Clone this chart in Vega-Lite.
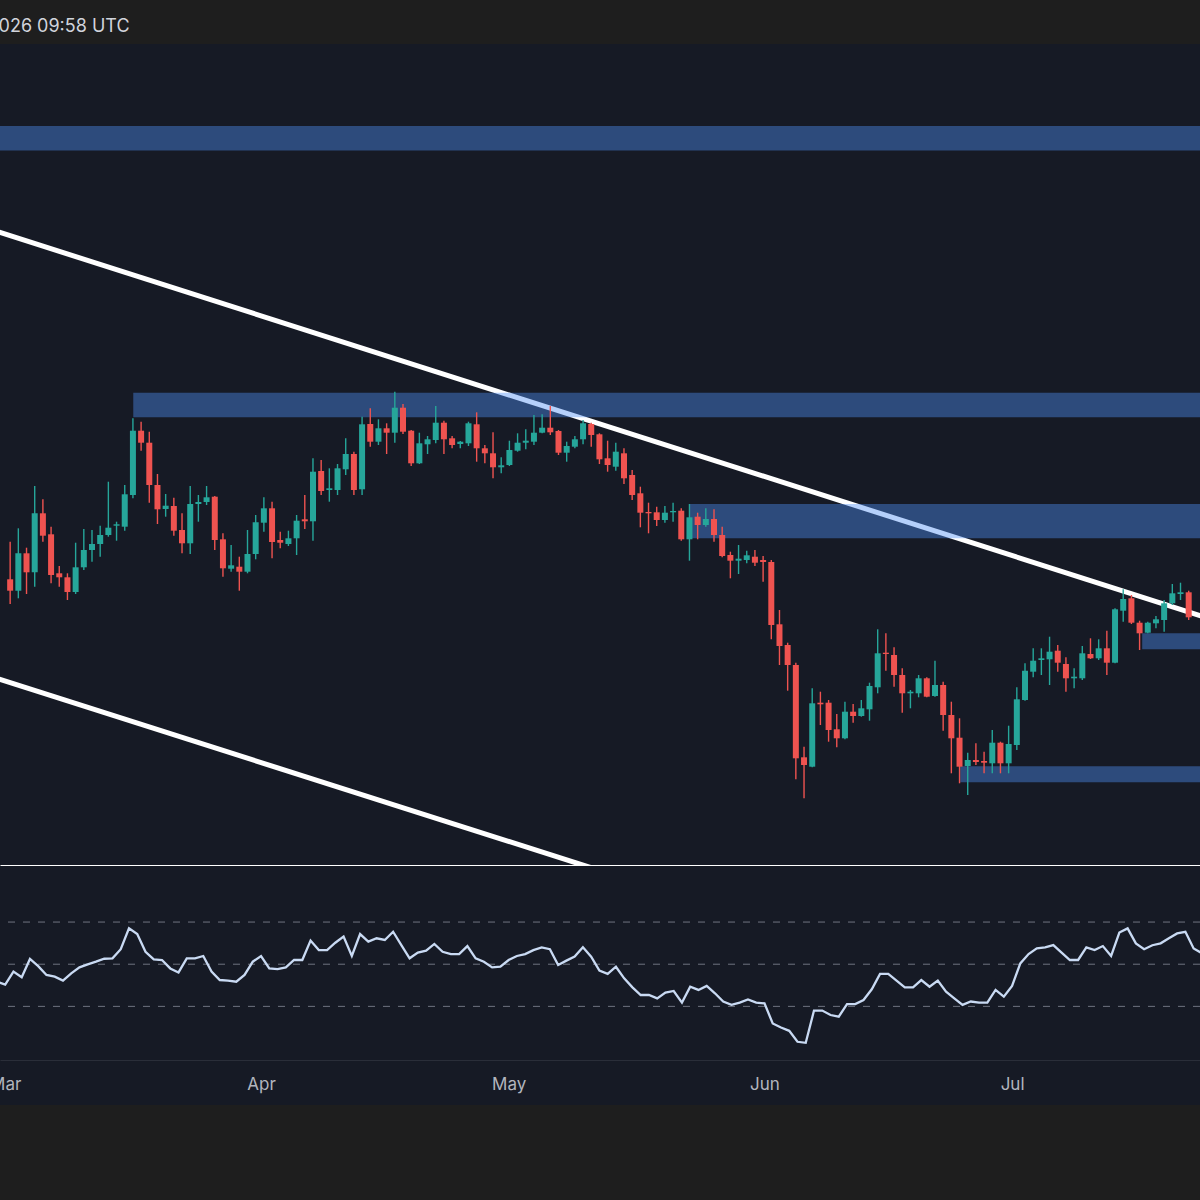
{
"$schema": "https://vega.github.io/schema/vega-lite/v6.json",
"background": "#1e1e1e",
"padding": {"top": 18, "left": -11, "right": 0, "bottom": 95},
"spacing": 0,
"title": {"text": "026 09:58 UTC", "anchor": "start", "dx": 9, "font": "Inter", "fontSize": 18, "fontWeight": "normal", "color": "#d1d4dc", "offset": 8},
"config": {"view": {"stroke": null}, "axis": {"grid": false}},
"datasets": {
"lines": [
{"k":"upper","d":"2026-02-25T22:48:00Z","p":672.3},
{"k":"upper","d":"2026-07-26T04:48:00Z","p":279.7},
{"k":"lower","d":"2026-02-25T22:48:00Z","p":225.3},
{"k":"lower","d":"2026-07-26T04:48:00Z","p":-166.3}
],
"zones": [
{"x1":"2026-02-20T00:00:00Z","x2":"2026-08-05T00:00:00Z","top":774,"bot":749.5},
{"x1":"2026-03-16T01:00:00Z","x2":"2026-08-05T00:00:00Z","top":507.3,"bot":482.7},
{"x1":"2026-05-23T00:00:00Z","x2":"2026-08-05T00:00:00Z","top":396,"bot":361.7},
{"x1":"2026-07-17T07:40:00Z","x2":"2026-08-05T00:00:00Z","top":266.7,"bot":250.7},
{"x1":"2026-06-25T02:10:00Z","x2":"2026-08-05T00:00:00Z","top":133.7,"bot":117.8}
],
"levels": [{"v":70},{"v":50},{"v":30}],
"candles": [
{"d":"2026-03-01","o":320.7,"h":358.3,"l":296,"c":309.3},
{"d":"2026-03-02","o":309.3,"h":371.7,"l":301.7,"c":346.7},
{"d":"2026-03-03","o":346.7,"h":352.3,"l":306,"c":327.7},
{"d":"2026-03-04","o":327.7,"h":414,"l":313.3,"c":386.7},
{"d":"2026-03-05","o":386.7,"h":400.7,"l":358.3,"c":364.3},
{"d":"2026-03-06","o":365.7,"h":373.3,"l":316.7,"c":325},
{"d":"2026-03-07","o":326.7,"h":334,"l":313.3,"c":322.7},
{"d":"2026-03-08","o":322.7,"h":326.7,"l":300,"c":308},
{"d":"2026-03-09","o":308,"h":357.3,"l":306,"c":332.7},
{"d":"2026-03-10","o":332.7,"h":371,"l":330,"c":350},
{"d":"2026-03-11","o":350,"h":370,"l":338.3,"c":356},
{"d":"2026-03-12","o":356,"h":374.3,"l":343.3,"c":365},
{"d":"2026-03-13","o":365,"h":418.3,"l":363.3,"c":372.3},
{"d":"2026-03-14","o":374.3,"h":378.3,"l":359.3,"c":375.7},
{"d":"2026-03-15","o":373.3,"h":415,"l":369.3,"c":405.7},
{"d":"2026-03-16","o":405,"h":481.7,"l":401.7,"c":469.3},
{"d":"2026-03-17","o":469.3,"h":478.3,"l":449.3,"c":457.3},
{"d":"2026-03-18","o":457.3,"h":468.3,"l":397.3,"c":415},
{"d":"2026-03-19","o":415,"h":426,"l":376,"c":390.7},
{"d":"2026-03-20","o":391,"h":406,"l":383.3,"c":394.3},
{"d":"2026-03-21","o":394,"h":402.3,"l":364.3,"c":369.3},
{"d":"2026-03-22","o":370,"h":386.7,"l":346.7,"c":356.7},
{"d":"2026-03-23","o":356.7,"h":414,"l":346,"c":396},
{"d":"2026-03-24","o":396,"h":405,"l":378.3,"c":398},
{"d":"2026-03-25","o":398,"h":414,"l":395,"c":402.7},
{"d":"2026-03-26","o":403.3,"h":404,"l":350,"c":360},
{"d":"2026-03-27","o":360.7,"h":366.7,"l":323.3,"c":331.7},
{"d":"2026-03-28","o":331.3,"h":355,"l":328.3,"c":334.7},
{"d":"2026-03-29","o":333.3,"h":343.3,"l":309.3,"c":328.3},
{"d":"2026-03-30","o":328.3,"h":370,"l":326.7,"c":346},
{"d":"2026-03-31","o":346,"h":385,"l":340.7,"c":377.7},
{"d":"2026-04-01","o":377.3,"h":402.7,"l":368.3,"c":391.7},
{"d":"2026-04-02","o":391.7,"h":398.3,"l":341.7,"c":358},
{"d":"2026-04-03","o":360,"h":368.3,"l":351.7,"c":357.3},
{"d":"2026-04-04","o":356,"h":369.3,"l":354,"c":361.7},
{"d":"2026-04-05","o":361.7,"h":385,"l":345,"c":379.3},
{"d":"2026-04-06","o":380.7,"h":405,"l":371,"c":378.7},
{"d":"2026-04-07","o":378.7,"h":441.7,"l":359.3,"c":428.3},
{"d":"2026-04-08","o":429,"h":440,"l":405,"c":409},
{"d":"2026-04-09","o":410,"h":431.7,"l":398.3,"c":411.7},
{"d":"2026-04-10","o":410,"h":436,"l":405,"c":431.7},
{"d":"2026-04-11","o":430.7,"h":461.7,"l":425,"c":446},
{"d":"2026-04-12","o":446,"h":448.3,"l":405,"c":410},
{"d":"2026-04-13","o":410.7,"h":483.3,"l":405,"c":475.7},
{"d":"2026-04-14","o":476,"h":491.7,"l":453.3,"c":458.3},
{"d":"2026-04-15","o":458.3,"h":480.7,"l":455,"c":471.7},
{"d":"2026-04-16","o":471.7,"h":476.7,"l":446,"c":467.3},
{"d":"2026-04-17","o":467.3,"h":508.3,"l":457.3,"c":492.3},
{"d":"2026-04-18","o":492.3,"h":496,"l":466,"c":468.3},
{"d":"2026-04-19","o":469.3,"h":470,"l":434,"c":436.7},
{"d":"2026-04-20","o":436.7,"h":467.3,"l":436,"c":456.7},
{"d":"2026-04-21","o":455.7,"h":464,"l":446,"c":460.7},
{"d":"2026-04-22","o":460,"h":494,"l":456.7,"c":477.3},
{"d":"2026-04-23","o":477.3,"h":479.3,"l":446,"c":460.7},
{"d":"2026-04-24","o":461.7,"h":464,"l":451.7,"c":455},
{"d":"2026-04-25","o":456,"h":459,"l":451.7,"c":458.3},
{"d":"2026-04-26","o":456.7,"h":478.3,"l":454,"c":476.7},
{"d":"2026-04-27","o":475.7,"h":487.7,"l":438.3,"c":451.7},
{"d":"2026-04-28","o":451.7,"h":455,"l":436.7,"c":446.7},
{"d":"2026-04-29","o":446.7,"h":467.7,"l":421.7,"c":432.7},
{"d":"2026-04-30","o":432.7,"h":442.7,"l":426.7,"c":434.7},
{"d":"2026-05-01","o":435,"h":459.3,"l":434,"c":450},
{"d":"2026-05-02","o":449.3,"h":466.7,"l":448.3,"c":457.3},
{"d":"2026-05-03","o":457.3,"h":470.7,"l":450.7,"c":459.3},
{"d":"2026-05-04","o":458.3,"h":485,"l":455,"c":467.3},
{"d":"2026-05-05","o":467.3,"h":485.7,"l":466.7,"c":472.3},
{"d":"2026-05-06","o":472.3,"h":494,"l":465,"c":467.7},
{"d":"2026-05-07","o":469,"h":470,"l":445,"c":447.3},
{"d":"2026-05-08","o":447.3,"h":458.3,"l":438.3,"c":454},
{"d":"2026-05-09","o":453.3,"h":464,"l":451.7,"c":460.7},
{"d":"2026-05-10","o":460.7,"h":480,"l":455.7,"c":476.7},
{"d":"2026-05-11","o":476,"h":477.3,"l":453.3,"c":465},
{"d":"2026-05-12","o":465.7,"h":466.7,"l":436,"c":440.7},
{"d":"2026-05-13","o":441.7,"h":459.3,"l":428.3,"c":435},
{"d":"2026-05-14","o":433.3,"h":457.3,"l":429.3,"c":448.3},
{"d":"2026-05-15","o":446.7,"h":451.7,"l":416,"c":421.7},
{"d":"2026-05-16","o":425,"h":430,"l":400,"c":405},
{"d":"2026-05-17","o":406.7,"h":413.3,"l":372.7,"c":387.3},
{"d":"2026-05-18","o":388,"h":397.3,"l":366.7,"c":386.7},
{"d":"2026-05-19","o":387.7,"h":393.3,"l":374,"c":380},
{"d":"2026-05-20","o":380,"h":394,"l":377.3,"c":387.3},
{"d":"2026-05-21","o":387.7,"h":397.3,"l":378.3,"c":389},
{"d":"2026-05-22","o":389.3,"h":391.7,"l":359.3,"c":360.7},
{"d":"2026-05-23","o":360.7,"h":396,"l":339.3,"c":382.7},
{"d":"2026-05-24","o":383.3,"h":387.3,"l":360.7,"c":375},
{"d":"2026-05-25","o":375,"h":391.7,"l":373.3,"c":381},
{"d":"2026-05-26","o":381,"h":390.7,"l":358.3,"c":365},
{"d":"2026-05-27","o":365,"h":373.3,"l":342.7,"c":344},
{"d":"2026-05-28","o":345,"h":348.3,"l":321.7,"c":339.3},
{"d":"2026-05-29","o":339.3,"h":355,"l":326,"c":341.3},
{"d":"2026-05-30","o":340,"h":349.3,"l":336.7,"c":344.7},
{"d":"2026-05-31","o":343.3,"h":350,"l":334,"c":337.3},
{"d":"2026-06-01","o":340,"h":344,"l":318.3,"c":338},
{"d":"2026-06-02","o":338,"h":340,"l":260.7,"c":275},
{"d":"2026-06-03","o":275.7,"h":290,"l":235,"c":254},
{"d":"2026-06-04","o":255,"h":257.3,"l":209.3,"c":235},
{"d":"2026-06-05","o":235,"h":237.3,"l":120.7,"c":141.7},
{"d":"2026-06-06","o":142.7,"h":153.3,"l":101.7,"c":135},
{"d":"2026-06-07","o":133.3,"h":211.7,"l":132.7,"c":196.7},
{"d":"2026-06-08","o":197.3,"h":208.3,"l":175,"c":195.7},
{"d":"2026-06-09","o":197.3,"h":200,"l":158.3,"c":170},
{"d":"2026-06-10","o":170.7,"h":186,"l":152.7,"c":161.7},
{"d":"2026-06-11","o":161.7,"h":198.3,"l":160.7,"c":188.3},
{"d":"2026-06-12","o":188.3,"h":196,"l":177.3,"c":184},
{"d":"2026-06-13","o":184,"h":200,"l":183.3,"c":191.7},
{"d":"2026-06-14","o":190.7,"h":217.3,"l":179.3,"c":214},
{"d":"2026-06-15","o":212.7,"h":270.7,"l":206.7,"c":246.7},
{"d":"2026-06-16","o":247.3,"h":266.7,"l":229.3,"c":246},
{"d":"2026-06-17","o":245,"h":252.7,"l":213.3,"c":225},
{"d":"2026-06-18","o":225,"h":231.7,"l":187.3,"c":206.7},
{"d":"2026-06-19","o":206.7,"h":210,"l":191.7,"c":208.3},
{"d":"2026-06-20","o":206.7,"h":225,"l":202.7,"c":221.7},
{"d":"2026-06-21","o":221.7,"h":222.7,"l":202.7,"c":203.3},
{"d":"2026-06-22","o":204,"h":239.3,"l":203.3,"c":215},
{"d":"2026-06-23","o":215,"h":218.3,"l":169.3,"c":185},
{"d":"2026-06-24","o":185,"h":198.3,"l":126.7,"c":161.7},
{"d":"2026-06-25","o":162.3,"h":181.7,"l":116.7,"c":133.3},
{"d":"2026-06-26","o":134,"h":147.3,"l":105,"c":140},
{"d":"2026-06-27","o":140,"h":156.7,"l":135,"c":138},
{"d":"2026-06-28","o":139,"h":148.3,"l":126.7,"c":137.3},
{"d":"2026-06-29","o":136.7,"h":170,"l":126.7,"c":157.3},
{"d":"2026-06-30","o":157.3,"h":158.3,"l":126.7,"c":136.7},
{"d":"2026-07-01","o":136.7,"h":174.3,"l":126.7,"c":156},
{"d":"2026-07-02","o":155,"h":212.7,"l":150,"c":200.7},
{"d":"2026-07-03","o":200,"h":236.7,"l":199.3,"c":229.3},
{"d":"2026-07-04","o":228.3,"h":251.7,"l":222.7,"c":239.3},
{"d":"2026-07-05","o":240,"h":251.7,"l":225,"c":241.7},
{"d":"2026-07-06","o":240.7,"h":263.3,"l":215,"c":248.3},
{"d":"2026-07-07","o":249.3,"h":255,"l":228.3,"c":237.3},
{"d":"2026-07-08","o":236,"h":242.7,"l":208.3,"c":221.7},
{"d":"2026-07-09","o":221.7,"h":231.7,"l":211.7,"c":223.3},
{"d":"2026-07-10","o":221.7,"h":254,"l":220,"c":246.7},
{"d":"2026-07-11","o":246,"h":261.7,"l":241,"c":241.7},
{"d":"2026-07-12","o":241.7,"h":260.7,"l":240,"c":251.7},
{"d":"2026-07-13","o":251.7,"h":269.3,"l":225,"c":237.3},
{"d":"2026-07-14","o":237.3,"h":291.7,"l":236.7,"c":290.7},
{"d":"2026-07-15","o":289.3,"h":310.7,"l":278.3,"c":301},
{"d":"2026-07-16","o":301.7,"h":305,"l":276,"c":277.3},
{"d":"2026-07-17","o":277.3,"h":279.3,"l":250,"c":266.7},
{"d":"2026-07-18","o":267.3,"h":278.3,"l":266.7,"c":277.3},
{"d":"2026-07-19","o":276.7,"h":284,"l":271.7,"c":280.7},
{"d":"2026-07-20","o":280,"h":300,"l":268.3,"c":296.7},
{"d":"2026-07-21","o":296.7,"h":316,"l":295,"c":306.7},
{"d":"2026-07-22","o":306,"h":317.3,"l":300,"c":307.7},
{"d":"2026-07-23","o":307.7,"h":309.3,"l":280,"c":282.7}
],
"rsi": [
{"d":"2026-02-28","r":41.7},{"d":"2026-03-01","r":40.3},{"d":"2026-03-02","r":46.5},{"d":"2026-03-03","r":43.8},{"d":"2026-03-04","r":52.5},{"d":"2026-03-05","r":49.1},{"d":"2026-03-06","r":44.9},{"d":"2026-03-07","r":44.1},{"d":"2026-03-08","r":42.2},{"d":"2026-03-09","r":45.7},{"d":"2026-03-10","r":48.5},{"d":"2026-03-11","r":49.9},{"d":"2026-03-12","r":51.2},{"d":"2026-03-13","r":52.6},{"d":"2026-03-14","r":52.8},{"d":"2026-03-15","r":57.1},{"d":"2026-03-16","r":67.0},{"d":"2026-03-17","r":64.3},{"d":"2026-03-18","r":55.9},{"d":"2026-03-19","r":52.3},{"d":"2026-03-20","r":52.0},{"d":"2026-03-21","r":48.0},{"d":"2026-03-22","r":46.1},{"d":"2026-03-23","r":52.8},{"d":"2026-03-24","r":52.8},{"d":"2026-03-25","r":53.9},{"d":"2026-03-26","r":46.5},{"d":"2026-03-27","r":42.5},{"d":"2026-03-28","r":42.2},{"d":"2026-03-29","r":41.7},{"d":"2026-03-30","r":44.9},{"d":"2026-03-31","r":51.2},
{"d":"2026-04-01","r":53.9},{"d":"2026-04-02","r":48.0},{"d":"2026-04-03","r":47.7},{"d":"2026-04-04","r":48.5},{"d":"2026-04-05","r":52.0},{"d":"2026-04-06","r":52.0},{"d":"2026-04-07","r":61.2},{"d":"2026-04-08","r":56.7},{"d":"2026-04-09","r":56.7},{"d":"2026-04-10","r":60.2},{"d":"2026-04-11","r":63.1},{"d":"2026-04-12","r":53.9},{"d":"2026-04-13","r":64.3},{"d":"2026-04-14","r":60.7},{"d":"2026-04-15","r":62.3},{"d":"2026-04-16","r":61.5},{"d":"2026-04-17","r":65.4},{"d":"2026-04-18","r":59.1},{"d":"2026-04-19","r":52.8},{"d":"2026-04-20","r":55.5},{"d":"2026-04-21","r":56.4},{"d":"2026-04-22","r":59.6},{"d":"2026-04-23","r":55.9},{"d":"2026-04-24","r":54.8},{"d":"2026-04-25","r":54.8},{"d":"2026-04-26","r":58.6},{"d":"2026-04-27","r":52.8},{"d":"2026-04-28","r":51.2},{"d":"2026-04-29","r":48.5},{"d":"2026-04-30","r":48.8},
{"d":"2026-05-01","r":52.0},{"d":"2026-05-02","r":53.9},{"d":"2026-05-03","r":54.8},{"d":"2026-05-04","r":56.7},{"d":"2026-05-05","r":58.0},{"d":"2026-05-06","r":57.1},{"d":"2026-05-07","r":49.6},{"d":"2026-05-08","r":51.7},{"d":"2026-05-09","r":53.6},{"d":"2026-05-10","r":58.0},{"d":"2026-05-11","r":53.6},{"d":"2026-05-12","r":47.0},{"d":"2026-05-13","r":45.4},{"d":"2026-05-14","r":48.8},{"d":"2026-05-15","r":43.3},{"d":"2026-05-16","r":39.0},{"d":"2026-05-17","r":35.4},{"d":"2026-05-18","r":35.4},{"d":"2026-05-19","r":33.8},{"d":"2026-05-20","r":36.5},{"d":"2026-05-21","r":37.3},{"d":"2026-05-22","r":31.8},{"d":"2026-05-23","r":39.3},{"d":"2026-05-24","r":37.8},{"d":"2026-05-25","r":39.7},{"d":"2026-05-26","r":36.2},{"d":"2026-05-27","r":32.3},{"d":"2026-05-28","r":30.7},{"d":"2026-05-29","r":31.8},{"d":"2026-05-30","r":33.3},{"d":"2026-05-31","r":31.8},
{"d":"2026-06-01","r":31.4},{"d":"2026-06-02","r":21.9},{"d":"2026-06-03","r":20.0},{"d":"2026-06-04","r":18.4},{"d":"2026-06-05","r":13.2},{"d":"2026-06-06","r":12.7},{"d":"2026-06-07","r":28.0},{"d":"2026-06-08","r":28.0},{"d":"2026-06-09","r":25.9},{"d":"2026-06-10","r":25.1},{"d":"2026-06-11","r":31.1},{"d":"2026-06-12","r":31.1},{"d":"2026-06-13","r":33.0},{"d":"2026-06-14","r":38.1},{"d":"2026-06-15","r":45.4},{"d":"2026-06-16","r":45.4},{"d":"2026-06-17","r":42.2},{"d":"2026-06-18","r":39.0},{"d":"2026-06-19","r":39.0},{"d":"2026-06-20","r":42.5},{"d":"2026-06-21","r":39.3},{"d":"2026-06-22","r":42.2},{"d":"2026-06-23","r":37.0},{"d":"2026-06-24","r":33.8},{"d":"2026-06-25","r":30.7},{"d":"2026-06-26","r":32.3},{"d":"2026-06-27","r":31.8},{"d":"2026-06-28","r":31.8},{"d":"2026-06-29","r":37.8},{"d":"2026-06-30","r":34.6},
{"d":"2026-07-01","r":39.7},{"d":"2026-07-02","r":50.4},{"d":"2026-07-03","r":54.8},{"d":"2026-07-04","r":57.5},{"d":"2026-07-05","r":58.0},{"d":"2026-07-06","r":59.1},{"d":"2026-07-07","r":55.5},{"d":"2026-07-08","r":52.0},{"d":"2026-07-09","r":52.0},{"d":"2026-07-10","r":58.0},{"d":"2026-07-11","r":56.7},{"d":"2026-07-12","r":58.6},{"d":"2026-07-13","r":53.9},{"d":"2026-07-14","r":65.0},{"d":"2026-07-15","r":67.0},{"d":"2026-07-16","r":59.9},{"d":"2026-07-17","r":57.1},{"d":"2026-07-18","r":59.0},{"d":"2026-07-19","r":59.9},{"d":"2026-07-20","r":62.3},{"d":"2026-07-21","r":64.6},{"d":"2026-07-22","r":65.4},{"d":"2026-07-23","r":57.5},{"d":"2026-07-24","r":55.2}
]
},
"vconcat": [
{
"width": 1200, "height": 822,
"view": {"fill": "#161a25", "stroke": null},
"layer": [
{"data": {"name": "lines"}, "mark": {"type": "line", "color": "#ffffff", "strokeWidth": 5, "clip": true},
 "encoding": {
  "x": {"field": "d", "type": "temporal", "scale": {"type": "utc", "nice": false, "domain": [{"year":2026,"month":2,"date":28,"hours":8,"minutes":53,"utc":true},{"year":2026,"month":7,"date":23,"hours":18,"minutes":30,"utc":true}]},
        "axis": {"orient": "bottom", "labels": false, "ticks": false, "title": null, "domain": true, "domainColor": "#ffffff", "domainWidth": 3, "grid": false}},
  "y": {"field": "p", "type": "quantitative", "scale": {"domain": [34, 856], "nice": false, "zero": false}, "axis": null},
  "detail": {"field": "k"}}},
{"data": {"name": "zones"}, "mark": {"type": "rect", "color": "#4f8ff5", "opacity": 0.42, "clip": true},
 "encoding": {"x": {"field": "x1", "type": "temporal"}, "x2": {"field": "x2"}, "y": {"field": "top", "type": "quantitative"}, "y2": {"field": "bot"}}},
{"data": {"name": "candles"}, "mark": {"type": "rule", "strokeWidth": 1.4, "clip": true},
 "encoding": {"x": {"field": "d", "type": "temporal"}, "y": {"field": "l", "type": "quantitative"}, "y2": {"field": "h"},
  "color": {"condition": {"test": "datum.c >= datum.o", "value": "#26a69a"}, "value": "#ef5350"}}},
{"data": {"name": "candles"}, "mark": {"type": "bar", "size": 6, "clip": true},
 "encoding": {"x": {"field": "d", "type": "temporal"}, "y": {"field": "o", "type": "quantitative"}, "y2": {"field": "c"},
  "color": {"condition": {"test": "datum.c >= datum.o", "value": "#26a69a"}, "value": "#ef5350"}}}
]
},
{
"width": 1200, "height": 239,
"view": {"fill": "#161a25", "stroke": null},
"layer": [
{"data": {"name": "levels"}, "mark": {"type": "rule", "color": "#6f7380", "strokeWidth": 1, "strokeDash": [7, 8]},
 "encoding": {"y": {"field": "v", "type": "quantitative", "scale": {"domain": [-16.8, 96.6], "nice": false, "zero": false}, "axis": null}}},
{"data": {"name": "rsi"}, "mark": {"type": "line", "color": "#c9daf3", "strokeWidth": 2.3, "clip": true},
 "encoding": {
  "x": {"field": "d", "type": "temporal", "scale": {"type": "utc", "nice": false, "domain": [{"year":2026,"month":2,"date":28,"hours":8,"minutes":53,"utc":true},{"year":2026,"month":7,"date":23,"hours":18,"minutes":30,"utc":true}]},
        "axis": {"orient": "bottom", "offset": -45, "format": "%b", "tickCount": {"interval": "month", "step": 1}, "labelFont": "Inter", "labelFontSize": 17, "labelColor": "#b2b5be", "labelBaseline": "alphabetic", "labelPadding": 29, "labelFlush": false, "labelOverlap": false, "ticks": false, "tickSize": 0, "domainColor": "#2a2e39", "domainWidth": 1, "title": null, "grid": false}},
  "y": {"field": "r", "type": "quantitative"}}}
]
}
]
}
